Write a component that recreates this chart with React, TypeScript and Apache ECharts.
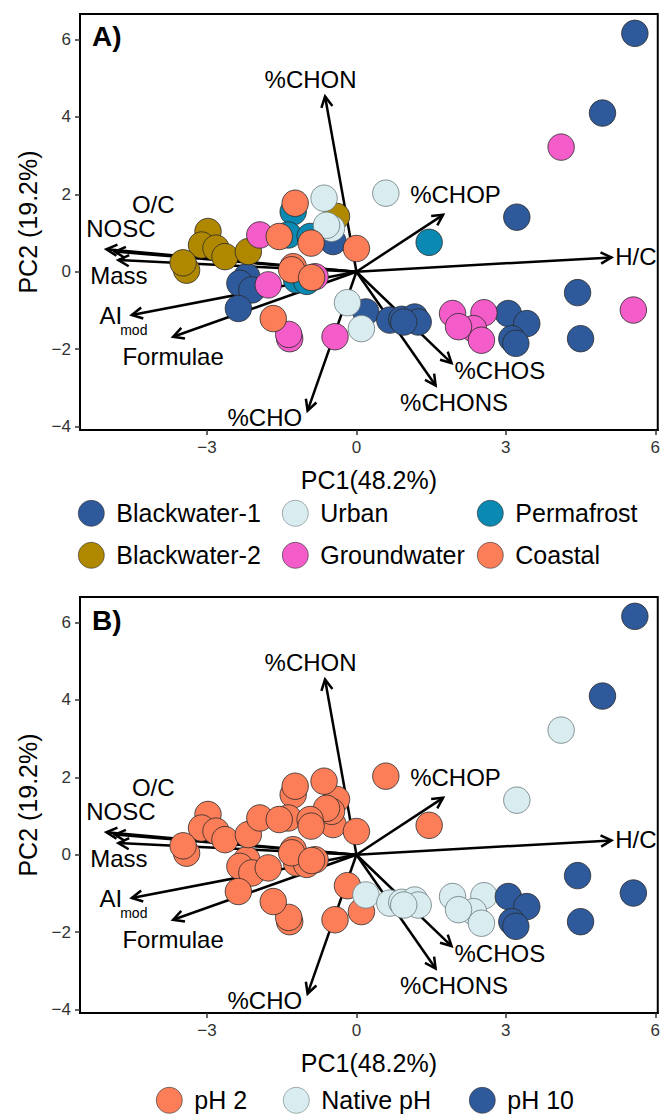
import React, { useEffect, useRef } from "react";
import * as echarts from "echarts";

// ---- sample scores (PC1, PC2), site (panel A) and pH treatment (panel B) ----
const pc1 = [
  5.59, 4.94, 3.22, 4.44, 4.5, 3.05, 3.42, 3.12, 3.2, 0.19, 0.67, 0.91, 1.17, 1.24, 0.95, -2.2, -2.34, -2.1, -2.37, -0.47,
  -2.98, -3.11, -2.82, -2.64, -3.41, -3.48, -2.17, -0.4,
  0.59, -0.65, -0.5, -0.6, -0.18, 0.1,
  4.11, 5.56, 1.93, 2.56, 2.35, 2.51, 2.05, -1.94, -1.77, -0.83, -1.34, -1.36, -0.43,
  1.46, -1.27, -1.37, -0.93, -1.2, -1.0,
  -1.23, -1.55, -0.91, 0.0, -1.27, -1.3, -0.9, -1.67,
];
const pc2 = [
  6.16, 4.1, 1.41, -0.54, -1.73, -1.08, -1.34, -1.73, -1.85, -1.04, -1.25, -1.23, -1.17, -1.3, -1.3, -0.13, -0.3, -0.47, -0.95, 0.78,
  1.04, 0.69, 0.61, 0.39, 0.04, 0.23, 0.52, 1.43,
  2.03, 1.9, 1.12, 1.2, -0.8, -1.47,
  3.22, -0.99, -1.08, -1.06, -1.47, -1.77, -1.42, 0.95, -0.34, -0.13, -1.73, -1.62, -1.68,
  0.76, 1.55, 0.95, 0.91, -0.21, -0.25,
  1.77, 0.91, 0.74, 0.6, 0.13, 0.05, -0.15, -1.21,
];
const siteOf = [
  ...Array(20).fill("Blackwater-1"),
  ...Array(8).fill("Blackwater-2"),
  ...Array(6).fill("Urban"),
  ...Array(13).fill("Groundwater"),
  ...Array(6).fill("Permafrost"),
  ...Array(8).fill("Coastal"),
];
const phOf = [
  "pH 10", "pH 10", "Native pH", "pH 10", "pH 10", "pH 10", "pH 10", "pH 10", "pH 10",
  "Native pH", "Native pH", "Native pH", "Native pH", "Native pH", "Native pH",
  "pH 2", "pH 2", "pH 2", "pH 2", "pH 2",
  "pH 2", "pH 2", "pH 2", "pH 2", "pH 2", "pH 2", "pH 2", "pH 2",
  "pH 2", "pH 2", "pH 2", "pH 2", "pH 2", "pH 2",
  "Native pH", "pH 10", "Native pH", "Native pH", "Native pH", "Native pH", "Native pH",
  "pH 2", "pH 2", "pH 2", "pH 2", "pH 2", "pH 2",
  "pH 2", "pH 2", "pH 2", "pH 2", "pH 2", "pH 2",
  "pH 2", "pH 2", "pH 2", "pH 2", "pH 2", "pH 2", "pH 2", "pH 2",
];

// draw order (later = on top)
const sites = ["Blackwater-1", "Blackwater-2", "Permafrost", "Urban", "Groundwater", "Coastal"];
const siteColors = {
  "Blackwater-1": "#2E5A9B",
  "Blackwater-2": "#B08800",
  Urban: "#D9ECEF",
  Permafrost: "#0A89B2",
  Groundwater: "#F45CC9",
  Coastal: "#FC7E59",
};
const phLevels = ["pH 2", "Native pH", "pH 10"];
const phColors = { "pH 2": "#FC7E59", "Native pH": "#D9ECEF", "pH 10": "#2E5A9B" };

// ---- loadings ----
const loadNames = ["%CHON", "%CHOP", "H/C", "O/C", "NOSC", "Mass", "AI", "Formulae", "%CHO", "%CHOS", "%CHONS"];
const loadX = [-0.63, 1.74, 5.12, -4.85, -5.02, -4.78, -4.51, -3.68, -0.98, 1.91, 1.59];
const loadY = [4.53, 1.47, 0.37, 0.52, 0.58, 0.3, -1.12, -1.68, -3.59, -2.36, -2.94];
const labelX = [-0.92, 1.99, 5.61, -4.08, -4.73, -4.77, -4.93, -3.68, -1.84, 2.88, 1.96];
const labelY = [4.97, 1.99, 0.39, 1.73, 1.12, -0.09, -1.12, -2.18, -3.76, -2.55, -3.38];
const subLabel = { text: "mod", x: -4.47, y: -1.51 };

const xTicks = [-3, 0, 3, 6];
const yTicks = [-4, -2, 0, 2, 4, 6];
const xRange = [-5.55, 6.05];
const yRange = [-4.09, 6.66];

const FONT = "'Liberation Sans', Arial, Helvetica, sans-serif";

function fmt(v: number) {
  return v < 0 ? "\u2212" + Math.abs(v) : String(v);
}

export default function App() {
  const ref = useRef<HTMLDivElement>(null);
  useEffect(() => {
    if (!ref.current) return;
    const chart = echarts.init(ref.current, null, { renderer: "svg" });

    const grids = [
      { left: 80, top: 14, width: 578, height: 416 },
      { left: 80, top: 597, width: 578, height: 416 },
    ].map((g) => ({ ...g, show: true, borderColor: "#000", borderWidth: 2, backgroundColor: "#fff" }));

    const xAxis = [0, 1].map((i) => ({
      type: "value",
      gridIndex: i,
      min: xRange[0],
      max: xRange[1],
      splitLine: { show: false },
      axisLine: { show: true, onZero: false, lineStyle: { color: "#000", width: 2 } },
      axisTick: { show: true, customValues: xTicks, length: 5, lineStyle: { color: "#333", width: 1.5 } },
      axisLabel: { customValues: xTicks, formatter: fmt, fontSize: 17, fontFamily: FONT, color: "#333", margin: 9 },
      name: "PC1(48.2%)",
      nameLocation: "middle",
      nameGap: 37,
      nameTextStyle: { fontSize: 25, fontFamily: FONT, color: "#000" },
    }));
    const yAxis = [0, 1].map((i) => ({
      type: "value",
      gridIndex: i,
      min: yRange[0],
      max: yRange[1],
      splitLine: { show: false },
      axisLine: { show: true, onZero: false, lineStyle: { color: "#000", width: 2 } },
      axisTick: { show: true, customValues: yTicks, length: 5, lineStyle: { color: "#333", width: 1.5 } },
      axisLabel: { customValues: yTicks, formatter: fmt, fontSize: 17, fontFamily: FONT, color: "#333", margin: 9 },
      name: "PC2 (19.2%)",
      nameLocation: "middle",
      nameGap: 40,
      nameTextStyle: { fontSize: 25, fontFamily: FONT, color: "#000" },
    }));

    const loadData = loadNames.map((n, i) => [loadX[i], loadY[i], labelX[i], labelY[i]]);

    const arrowSeries = (gi: number) => ({
      type: "custom",
      xAxisIndex: gi,
      yAxisIndex: gi,
      z: 1,
      silent: true,
      clip: false,
      data: loadData,
      renderItem: (params: any, api: any) => {
        const i = params.dataIndex;
        const o = api.coord([0, 0]);
        const t = api.coord([api.value(0), api.value(1)]);
        const l = api.coord([api.value(2), api.value(3)]);
        const ang = Math.atan2(t[1] - o[1], t[0] - o[0]);
        const L = 12;
        const a = Math.PI / 6.5;
        const p1 = [t[0] - L * Math.cos(ang - a), t[1] - L * Math.sin(ang - a)];
        const p2 = [t[0] - L * Math.cos(ang + a), t[1] - L * Math.sin(ang + a)];
        const children: any[] = [
          { type: "line", shape: { x1: o[0], y1: o[1], x2: t[0], y2: t[1] }, style: { stroke: "#000", lineWidth: 2.5 } },
          { type: "polyline", shape: { points: [p1, t, p2] }, style: { stroke: "#000", lineWidth: 2.5, fill: null, lineJoin: "miter" } },
          {
            type: "text",
            x: l[0],
            y: l[1],
            style: { text: loadNames[i], fontSize: 24, fontFamily: FONT, fill: "#000", align: "center", verticalAlign: "middle" },
          },
        ];
        if (loadNames[i] === "AI") {
          const s = api.coord([subLabel.x, subLabel.y]);
          children.push({
            type: "text",
            x: s[0],
            y: s[1],
            style: { text: subLabel.text, fontSize: 14, fontFamily: FONT, fill: "#000", align: "center", verticalAlign: "middle" },
          });
        }
        return { type: "group", children };
      },
    });

    const pointStyle = (color: string) => ({
      color,
      borderColor: color === "#D9ECEF" ? "#6b7a7c" : "#2a2a2a",
      borderWidth: 0.8,
      opacity: 1,
    });

    const siteSeries = sites.map((s) => ({
      type: "scatter",
      name: s,
      xAxisIndex: 0,
      yAxisIndex: 0,
      z: 3,
      symbolSize: 26.5,
      itemStyle: pointStyle((siteColors as any)[s]),
      emphasis: { disabled: true },
      data: pc1.map((x, i) => (siteOf[i] === s ? [x, pc2[i]] : null)).filter((d) => d !== null),
    }));
    const phSeries = phLevels.map((p) => ({
      type: "scatter",
      name: p,
      xAxisIndex: 1,
      yAxisIndex: 1,
      z: 3,
      symbolSize: 26.5,
      itemStyle: pointStyle((phColors as any)[p]),
      emphasis: { disabled: true },
      data: pc1.map((x, i) => (phOf[i] === p ? [x, pc2[i]] : null)).filter((d) => d !== null),
    }));

    const legendItem = (name: string, cx: number, cy: number) => ({
      data: [name],
      left: cx - 13,
      top: cy - 13,
      padding: 0,
      icon: "circle",
      itemWidth: 26,
      itemHeight: 26,
      selectedMode: false,
      itemStyle: { borderWidth: 0.6 },
      textStyle: { fontSize: 25, fontFamily: FONT, color: "#000", padding: [2, 0, 0, 7] },
    });

    const legendA = [
      ["Blackwater-1", 91, 513], ["Urban", 295, 513], ["Permafrost", 490, 513],
      ["Blackwater-2", 91, 555], ["Groundwater", 295, 555], ["Coastal", 490, 555],
    ];
    const legendB = [["pH 2", 169, 1100], ["Native pH", 296, 1100], ["pH 10", 482, 1100]];

    chart.setOption({
      animation: false,
      backgroundColor: "#fff",
      grid: grids,
      xAxis,
      yAxis,
      legend: [...legendA, ...legendB].map((l: any) => legendItem(l[0], l[1], l[2])),
      graphic: [
        { type: "text", left: 92, top: 22, style: { text: "A)", fontSize: 28, fontWeight: "bold", fontFamily: FONT, fill: "#000" } },
        { type: "text", left: 92, top: 606, style: { text: "B)", fontSize: 28, fontWeight: "bold", fontFamily: FONT, fill: "#000" } },
      ],
      series: [arrowSeries(0), arrowSeries(1), ...siteSeries, ...phSeries],
    });
    return () => chart.dispose();
  }, []);
  return <div ref={ref} style={{ position: "absolute", left: 0, top: 0, width: 663, height: 1114 }} />;
}
